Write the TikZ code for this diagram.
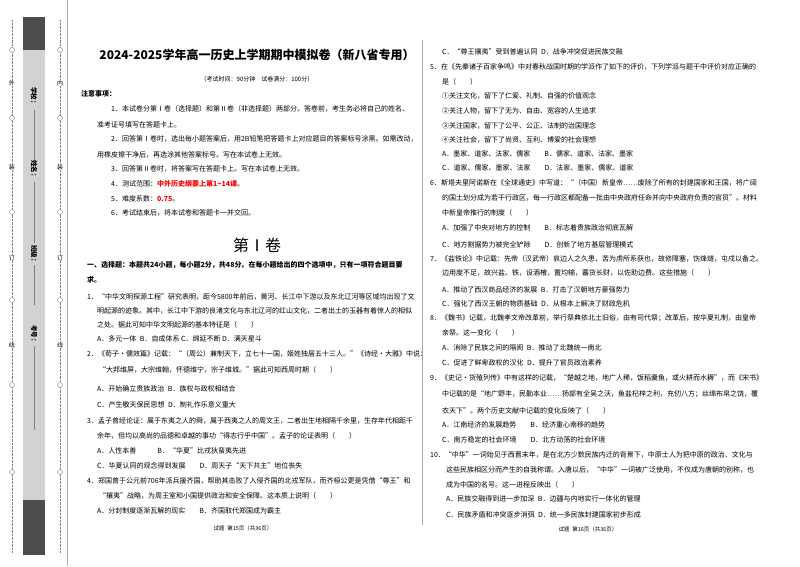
\documentclass[tikz,border=0pt]{standalone}
\usepackage{fontspec}
\setmainfont{Noto Sans CJK SC}
\newcommand{\fs}{\fontsize{7}{8}\selectfont}
\begin{document}
\begin{tikzpicture}[x=1pt,y=-1pt,
 t/.style={anchor=west,inner sep=0pt,font=\fs},
 side/.style={inner sep=0pt,font=\fontsize{6}{7}\selectfont},
 lab/.style={inner sep=0pt,rotate=-90,font=\fontsize{6.5}{7}\selectfont\bfseries},
 dl/.style={densely dotted,gray,line width=0.4pt},
 hole/.style={circle,draw=gray,fill=white,minimum size=5pt,inner sep=0pt}]
\useasboundingbox (0,0) rectangle (800,566);
\fill[white] (0,0) rectangle (800,566);
% sidebar
\fill[gray!35] (23,17) rectangle (45,555);
\fill[black!70] (23,17) rectangle (45,50);
\fill[black!70] (23,500) rectangle (45,555);
\draw[gray!60] (67,0) -- (67,566);
\draw[dl] (12,20) -- (12,553);
\draw[dl] (60,20) -- (60,553);
\foreach \y/\n in {50/a,118/b,212/c,300/d,385/e,472/f}{
 \node[hole] (o\n) at (12,\y) {};
 \node[hole] (i\n) at (60,\y) {};}
\foreach \y/\c/\n in {83/外/1,167/装/2,258/订/3,345/线/4}{
 \node[side,fill=white] (so\n) at (12,\y) {\c};}
\foreach \y/\c/\n in {83/内/1,167/装/2,258/订/3,345/线/4}{
 \node[side,fill=white] (si\n) at (60,\y) {\c};}
\node[lab] (l1) at (34,97) {学校：};
\node[lab] (l2) at (34,170) {姓名：};
\node[lab] (l3) at (34,255) {班级：};
\node[lab] (l4) at (34,335) {考号：};
\draw[gray] (34,110) -- (34,160);
\draw[gray] (34,182) -- (34,243);
\draw[gray] (34,265) -- (34,305);
\draw[gray] (34,346) -- (34,430);
% column divider
\draw[gray!70,line width=0.6pt] (422,40) -- (422,525);
% left column
\node[inner sep=0pt,font=\fontsize{12}{14}\selectfont\bfseries] (title) at (257,55) {2024-2025学年高一历史上学期期中模拟卷（新八省专用）};
\node[inner sep=0pt,font=\fontsize{6}{7}\selectfont] (sub) at (257,79) {（考试时间：90分钟\quad 试卷满分：100分）};
\node[t,font=\fs\bfseries] at (81,94) {注意事项：};
\node[t] at (111,109) {1．本试卷分第Ⅰ卷（选择题）和第Ⅱ卷（非选择题）两部分。答卷前，考生务必将自己的姓名、};
\node[t] at (97,125) {准考证号填写在答题卡上。};
\node[t] at (111,139) {2．回答第Ⅰ卷时，选出每小题答案后，用2B铅笔把答题卡上对应题目的答案标号涂黑。如需改动，};
\node[t] at (97,155) {用橡皮擦干净后，再选涂其他答案标号。写在本试卷上无效。};
\node[t] at (111,169) {3．回答第Ⅱ卷时，将答案写在答题卡上。写在本试卷上无效。};
\node[t] at (111,184) {4．测试范围：\textcolor{red}{\bfseries 中外历史纲要上第1\textasciitilde14课}。};
\node[t] at (111,199) {5．难度系数：\textcolor{red}{\bfseries 0.75}。};
\node[t] at (111,213) {6．考试结束后，将本试卷和答题卡一并交回。};
\node[inner sep=0pt,font=\fontsize{16}{18}\selectfont] (vol) at (257,245) {第Ⅰ卷};
\node[t,font=\fs\bfseries] at (87,265) {一、选择题：本题共24小题，每小题2分，共48分。在每小题给出的四个选项中，只有一项符合题目要};
\node[t,font=\fs\bfseries] at (87,280) {求。};
\node[t] at (87,297) {1．“中华文明探源工程”研究表明，距今5800年前后，黄河、长江中下游以及东北辽河等区域均出现了文};
\node[t] at (97,311) {明起源的迹象。其中，长江中下游的良渚文化与东北辽河的红山文化，二者出土的玉器有着惊人的相似};
\node[t] at (97,325) {之处。据此可知中华文明起源的基本特征是（\qquad）};
\node[t] at (97,339) {A．多元一体\enspace B．自成体系 C．绵延不断 D．满天星斗};
\node[t] at (87,354) {2．《荀子·儒效篇》记载：“（周公）兼制天下，立七十一国，姬姓独居五十三人。”《诗经·大雅》中说：};
\node[t] at (99,370) {“大邦维屏，大宗维翰，怀德维宁，宗子维城。”据此可知西周时期（\qquad）};
\node[t] at (97,389) {A．开始确立贵族政治\enspace B．族权与政权相结合};
\node[t] at (97,405) {C．产生敬天保民思想\enspace D．制礼作乐意义重大};
\node[t] at (87,421) {3．孟子曾经论证：属于东夷之人的舜，属于西夷之人的周文王，二者出生地相隔千余里，生存年代相距千};
\node[t] at (97,436) {余年，但均以高尚的品德和卓越的事功“得志行乎中国”。孟子的论证表明（\qquad）};
\node[t] at (97,451) {A．人性本善\qquad\quad B．“华夏”比戎狄蛮夷先进};
\node[t] at (97,466) {C．华夏认同的观念得到发展\qquad D．周天子“天下共主”地位丧失};
\node[t] at (87,481) {4．郑国曾于公元前706年派兵援齐国，帮助其击败了入侵齐国的北戎军队，而齐桓公更是凭借“尊王”和};
\node[t] at (99,496) {“攘夷”战略，为周王室和小国提供政治和安全保障。这本质上说明（\qquad）};
\node[t] at (97,511) {A．分封制度逐渐瓦解的现实\qquad B．齐国取代郑国成为霸主};
\node[inner sep=0pt,font=\fontsize{5.5}{6}\selectfont] (f1) at (243,528) {试题\enspace 第15页（共36页）};
% right column
\node[t] at (442,52) {C．“尊王攘夷”受到普遍认同\enspace D．战争冲突促进民族交融};
\node[t] at (430,67) {5．在《先秦诸子百家争鸣》中对春秋战国时期的学派作了如下的评价，下列学派与题干中评价对应正确的};
\node[t] at (442,82) {是（\qquad）};
\node[t] at (442,96) {①关注文化，留下了仁爱、礼制、自强的价值观念};
\node[t] at (442,111) {②关注人物，留下了无为、自由、宽容的人生追求};
\node[t] at (442,126) {③关注国家，留下了公平、公正、法制的治国理念};
\node[t] at (442,140) {④关注社会，留下了尚贤、互利、博爱的社会理想};
\node[t] at (442,154) {A．墨家、道家、法家、儒家\qquad B．儒家、道家、法家、墨家};
\node[t] at (442,168) {C．道家、儒家、墨家、法家\qquad D．法家、墨家、儒家、道家};
\node[t] at (430,183) {6．斯塔夫里阿诺斯在《全球通史》中写道：“（中国）新皇帝……废除了所有的封建国家和王国，将广阔};
\node[t] at (442,198) {的国土划分成为若干行政区，每一行政区都配备一批由中央政府任命并向中央政府负责的官员”。材料};
\node[t] at (442,213) {中新皇帝推行的制度（\qquad）};
\node[t] at (442,228) {A．加强了中央对地方的控制\qquad B．标志着贵族政治彻底瓦解};
\node[t] at (442,245) {C．地方割据势力被完全铲除\qquad D．创新了地方基层管理模式};
\node[t] at (430,259) {7．《盐铁论》中记载：先帝（汉武帝）哀边人之久患，苦为虏所系获也，故修障塞，饬烽燧，屯戍以备之。};
\node[t] at (442,273) {边用度不足，故兴盐、铁，设酒榷，置均输，蕃货长财，以佐助边费。这些措施（\qquad）};
\node[t] at (442,290) {A．推动了西汉商品经济的发展\enspace B．打击了汉朝地方豪强势力};
\node[t] at (442,304) {C．强化了西汉王朝的物质基础\enspace D．从根本上解决了财政危机};
\node[t] at (430,318) {8．《魏书》记载，北魏孝文帝改革前，举行祭典依北土旧俗，由有司代祭；改革后，按华夏礼制，由皇帝};
\node[t] at (442,333) {亲祭。这一变化（\qquad）};
\node[t] at (442,348) {A．消除了民族之间的隔阂\enspace B．推动了北魏统一南北};
\node[t] at (442,363) {C．促进了鲜卑政权的汉化\enspace D．提升了官员政治素养};
\node[t] at (430,378) {9．《史记·货殖列传》中有这样的记载，“楚越之地，地广人稀，饭稻羹鱼，或火耕而水耨”，而《宋书》};
\node[t] at (442,394) {中记载的是“地广野丰，民勤本业……扬部有全吴之沃，鱼盐杞梓之利，充仞八方；丝绵布帛之饶，覆};
\node[t] at (442,411) {衣天下”。两个历史文献中记载的变化反映了（\qquad）};
\node[t] at (442,425) {A．江南经济的发展趋势\qquad B．经济重心南移的趋势};
\node[t] at (442,440) {C．南方稳定的社会环境\qquad D．北方动荡的社会环境};
\node[t] at (430,455) {10．“中华”一词始见于西晋末年，是在北方少数民族内迁的背景下，中原士人为把中原的政治、文化与};
\node[t] at (446,470) {这些民族相区分而产生的自我称谓。入唐以后，“中华”一词被广泛使用，不仅成为唐朝的别称，也};
\node[t] at (446,485) {成为中国的名号。这一进程反映出（\qquad）};
\node[t] at (446,499) {A．民族交融得到进一步加深\enspace B．边疆与内地实行一体化的管理};
\node[t] at (446,515) {C．民族矛盾和冲突逐步消弭\enspace D．统一多民族封建国家初步形成};
\node[inner sep=0pt,font=\fontsize{5.5}{6}\selectfont] (f2) at (588,529) {试题\enspace 第16页（共36页）};
\end{tikzpicture}
\end{document}
